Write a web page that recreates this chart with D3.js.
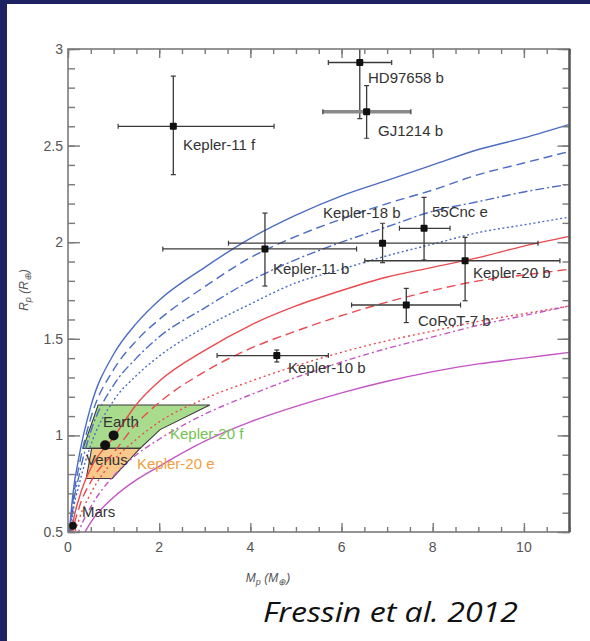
<!DOCTYPE html>
<html><head><meta charset="utf-8">
<script src="https://cdn.jsdelivr.net/npm/d3@7"></script>
<style>
html,body{margin:0;padding:0;background:#fff;}
svg{display:block;}
</style></head>
<body>
<script>
// ---------- data ----------
const massGrid = [0.02,0.05,0.1,0.25,0.5,1,1.5,2,3,4,5,6,7,8,9,10,11];
const blueSolid   = [0.45,0.55,0.68,0.90,1.15,1.42,1.58,1.70,1.87,2.02,2.14,2.24,2.32,2.40,2.48,2.54,2.61];
const blueDashed  = [0.43,0.52,0.64,0.85,1.09,1.34,1.49,1.60,1.77,1.92,2.03,2.12,2.20,2.27,2.35,2.41,2.47];
const blueDashDot = [0.41,0.49,0.61,0.80,1.02,1.26,1.40,1.51,1.66,1.80,1.91,2.00,2.08,2.16,2.21,2.26,2.30];
const blueDotted  = [0.39,0.46,0.58,0.75,0.95,1.18,1.31,1.41,1.56,1.68,1.79,1.86,1.93,1.99,2.05,2.09,2.13];
const redSolid    = [0.36,0.43,0.53,0.68,0.83,0.99,1.16,1.28,1.44,1.57,1.67,1.75,1.82,1.87,1.92,1.98,2.03];
const redDashed   = [0.33,0.40,0.49,0.63,0.76,0.91,1.06,1.17,1.33,1.45,1.54,1.62,1.69,1.75,1.80,1.83,1.86];
const redDotted   = [0.30,0.36,0.44,0.57,0.70,0.87,0.98,1.07,1.19,1.28,1.36,1.43,1.49,1.54,1.59,1.63,1.67];
const magDashDot  = [0.27,0.32,0.40,0.51,0.63,0.79,0.90,0.98,1.11,1.21,1.30,1.38,1.45,1.51,1.57,1.62,1.67];
const magSolid    = [0.22,0.27,0.34,0.44,0.55,0.68,0.77,0.84,0.97,1.07,1.15,1.22,1.28,1.33,1.37,1.40,1.43];

const curveNames  = ["blueSolid","blueDashed","blueDashDot","blueDotted","redSolid","redDashed","redDotted","magDashDot","magSolid"];
const curveValues = [blueSolid,blueDashed,blueDashDot,blueDotted,redSolid,redDashed,redDotted,magDashDot,magSolid];

// planets: mass (low, high), radius (low, high)
const planetNames = ["Kepler-11 f","HD97658 b","GJ1214 b","Kepler-18 b","Kepler-11 b","55Cnc e","Kepler-20 b","CoRoT-7 b","Kepler-10 b"];
const planetMass  = [2.31, 6.40, 6.55, 6.90, 4.32, 7.81, 8.71, 7.42, 4.58];
const planetMLo   = [1.10, 5.71, 5.59, 3.52, 2.08, 7.27, 6.51, 6.22, 3.27];
const planetMHi   = [4.52, 7.10, 7.52, 10.31, 6.33, 8.38, 10.79, 8.61, 5.71];
const planetR     = [2.60, 2.93, 2.675, 1.995, 1.965, 2.072, 1.904, 1.675, 1.413];
const planetRLo   = [2.35, 2.64, 2.538, 1.894, 1.773, 1.908, 1.697, 1.584, 1.380];
const planetRHi   = [2.86, 3.20, 2.810, 2.098, 2.150, 2.232, 2.025, 1.761, 1.442];

const solarNames  = ["Mars","Venus","Earth"];
const solarMass   = [0.107, 0.815, 1.0];
const solarR      = [0.532, 0.949, 1.0];

// Kepler-20 f and e allowed regions (mass, radius)
const k20fRegion = [[0.66,1.157],[3.11,1.157],[2.02,1.03],[1.58,0.933],[0.33,0.933]];
const k20eRegion = [[0.52,0.933],[1.58,0.933],[0.97,0.777],[0.40,0.777]];

const xTickLabels = [0,2,4,6,8,10];
const yTickLabels = [0.5,1,1.5,2,2.5,3];

// ---------- layout ----------
const W = 590, H = 641;
const svg = d3.select("body").append("svg").attr("width",W).attr("height",H);
svg.append("rect").attr("x",0).attr("y",0).attr("width",W).attr("height",H).attr("fill","#fff");
svg.append("rect").attr("x",0).attr("y",0).attr("width",W).attr("height",4).attr("fill","#1f2262");
svg.append("rect").attr("x",0).attr("y",0).attr("width",7).attr("height",H).attr("fill","#1f2262");

const L = 68, R = 569.5, T = 49, B = 532;
const x = d3.scaleLinear().domain([0,11]).range([L,R]);
const y = d3.scaleLinear().domain([0.5,3]).range([B,T]);

svg.append("clipPath").attr("id","clip").append("rect")
  .attr("x",L).attr("y",T).attr("width",R-L).attr("height",B-T);
const plot = svg.append("g").attr("clip-path","url(#clip)");

// regions
const poly = d3.line().x(d=>x(d[0])).y(d=>y(d[1])).curve(d3.curveLinearClosed);
plot.append("path").attr("d",poly(k20fRegion)).attr("fill","#a9db8c").attr("stroke","#3a3a3a").attr("stroke-width",1.1);
plot.append("path").attr("d",poly(k20eRegion)).attr("fill","#f7c98a").attr("stroke","#3a3a3a").attr("stroke-width",1.1);

// curves
const styles = {
  blueSolid:   {c:"#4c6cc4", d:null},
  blueDashed:  {c:"#4c6cc4", d:"9,5"},
  blueDashDot: {c:"#4c6cc4", d:"9,3,2,3"},
  blueDotted:  {c:"#4c6cc4", d:"2,2.5"},
  redSolid:    {c:"#ea4a50", d:null},
  redDashed:   {c:"#ea4a50", d:"9,5"},
  redDotted:   {c:"#ea4a50", d:"2,3"},
  magDashDot:  {c:"#c455c4", d:"6,3,2,3"},
  magSolid:    {c:"#c455c4", d:null}
};
const line = d3.line().x(d=>x(d[0])).y(d=>y(d[1])).curve(d3.curveMonotoneX);
curveNames.forEach((n,i)=>{
  const pts = massGrid.map((m,j)=>[m,curveValues[i][j]]);
  const s = styles[n];
  const p = plot.append("path").attr("d",line(pts)).attr("fill","none")
    .attr("stroke",s.c).attr("stroke-width",1.4);
  if(s.d) p.attr("stroke-dasharray",s.d);
});

// error bars
const ebColor = "#3a3a3a";
const eb = plot.append("g");
planetNames.forEach((n,i)=>{
  const cx = x(planetMass[i]), cy = y(planetR[i]);
  const thick = n==="GJ1214 b";
  eb.append("line").attr("x1",x(planetMLo[i])).attr("x2",x(planetMHi[i])).attr("y1",cy).attr("y2",cy)
    .attr("stroke",thick?"#8a8a8a":ebColor).attr("stroke-width",thick?3.5:1.3);
  [planetMLo[i],planetMHi[i]].forEach(v=>{
    eb.append("line").attr("x1",x(v)).attr("x2",x(v)).attr("y1",cy-2.5).attr("y2",cy+2.5)
      .attr("stroke",ebColor).attr("stroke-width",1.2);
  });
  eb.append("line").attr("x1",cx).attr("x2",cx).attr("y1",y(planetRLo[i])).attr("y2",y(planetRHi[i]))
    .attr("stroke",ebColor).attr("stroke-width",1.3);
  [planetRLo[i],planetRHi[i]].forEach(v=>{
    eb.append("line").attr("x1",cx-2.5).attr("x2",cx+2.5).attr("y1",y(v)).attr("y2",y(v))
      .attr("stroke",ebColor).attr("stroke-width",1.2);
  });
  eb.append("rect").attr("x",cx-3.5).attr("y",cy-3.5).attr("width",7).attr("height",7)
    .attr("rx",1).attr("fill","#111");
});
solarNames.forEach((n,i)=>{
  plot.append("circle").attr("cx",x(solarMass[i])).attr("cy",y(solarR[i]))
    .attr("r",n==="Mars"?4:5).attr("fill","#111");
});

// ---------- axes ----------
const axisColor = "#7a7a7a";
const ax = svg.append("g");
function tickLines(axisGen, tr){
  const g = ax.append("g").attr("transform",tr).call(axisGen);
  g.selectAll("text").remove();
  g.select(".domain").remove();
  g.selectAll("line").attr("stroke",axisColor).attr("stroke-width",1.4);
}
const xMinor = d3.range(0,11.01,0.5), xMajor = d3.range(0,11.01,2);
const yMinor = d3.range(0.5,3.001,0.1).map(v=>+v.toFixed(2)), yMajor = yTickLabels;
tickLines(d3.axisBottom(x).tickValues(xMinor).tickSize(-5).tickFormat(""), `translate(0,${B})`);
tickLines(d3.axisBottom(x).tickValues(xMajor).tickSize(-9).tickFormat(""), `translate(0,${B})`);
tickLines(d3.axisTop(x).tickValues(xMinor).tickSize(-5).tickFormat(""), `translate(0,${T})`);
tickLines(d3.axisTop(x).tickValues(xMajor).tickSize(-9).tickFormat(""), `translate(0,${T})`);
tickLines(d3.axisLeft(y).tickValues(yMinor).tickSize(-7).tickFormat(""), `translate(${L},0)`);
tickLines(d3.axisLeft(y).tickValues(yMajor).tickSize(-12).tickFormat(""), `translate(${L},0)`);
tickLines(d3.axisRight(y).tickValues(yMinor).tickSize(-7).tickFormat(""), `translate(${R},0)`);
tickLines(d3.axisRight(y).tickValues(yMajor).tickSize(-12).tickFormat(""), `translate(${R},0)`);

ax.append("rect").attr("x",L).attr("y",T).attr("width",R-L).attr("height",B-T)
  .attr("fill","none").attr("stroke",axisColor).attr("stroke-width",1.6);
ax.append("line").attr("x1",R).attr("x2",R).attr("y1",T).attr("y2",B).attr("stroke","#555").attr("stroke-width",2.4);

const font = "Liberation Sans, Arial, sans-serif";
svg.append("g").selectAll("text").data(xTickLabels).join("text")
  .attr("x",d=>x(d)).attr("y",B+20).attr("text-anchor","middle")
  .attr("font-family",font).attr("font-size",14).attr("fill","#555").text(d=>d);
svg.append("g").selectAll("text").data(yTickLabels).join("text")
  .attr("x",L-5).attr("y",d=>y(d)+5).attr("text-anchor","end")
  .attr("font-family",font).attr("font-size",14).attr("fill","#555").text(d=>d);

// axis titles
const xt = svg.append("text").attr("x",268).attr("y",582).attr("text-anchor","middle")
  .attr("font-family",font).attr("font-size",12).attr("fill","#555").attr("font-style","italic");
xt.append("tspan").text("M");
xt.append("tspan").attr("dy",3).attr("font-size",9).text("p");
xt.append("tspan").attr("dy",-3).text(" (M");
xt.append("tspan").attr("dy",3).attr("font-size",9).text("⊕");
xt.append("tspan").attr("dy",-3).text(")");

const yt = svg.append("text").attr("transform","translate(28,290) rotate(-90)").attr("text-anchor","middle")
  .attr("font-family",font).attr("font-size",12).attr("fill","#555").attr("font-style","italic");
yt.append("tspan").text("R");
yt.append("tspan").attr("dy",3).attr("font-size",9).text("p");
yt.append("tspan").attr("dy",-3).text(" (R");
yt.append("tspan").attr("dy",3).attr("font-size",9).text("⊕");
yt.append("tspan").attr("dy",-3).text(")");

// ---------- labels ----------
const labelPos = {
  "Kepler-11 f":[183,150], "HD97658 b":[368,83], "GJ1214 b":[378,136], "Kepler-18 b":[323,218],
  "Kepler-11 b":[273,274], "55Cnc e":[432,217], "Kepler-20 b":[473,278], "CoRoT-7 b":[418,326],
  "Kepler-10 b":[288,373], "Mars":[82,517], "Venus":[86,465], "Earth":[103,427]
};
const lbl = svg.append("g").attr("font-family",font).attr("font-size",15).attr("fill","#333");
planetNames.concat(solarNames).forEach(n=>{
  lbl.append("text").attr("x",labelPos[n][0]).attr("y",labelPos[n][1]).text(n);
});
svg.append("text").attr("x",170).attr("y",439).attr("font-family",font).attr("font-size",15)
  .attr("fill","#72c450").text("Kepler-20 f");
svg.append("text").attr("x",137).attr("y",469).attr("font-family",font).attr("font-size",15)
  .attr("fill","#f0a040").text("Kepler-20 e");

// citation
svg.append("text").attr("x",263).attr("y",622).attr("font-family","Open Sans, DejaVu Sans, sans-serif")
  .attr("font-size",27).attr("font-style","italic").attr("fill","#111")
  .attr("textLength",255).attr("lengthAdjust","spacingAndGlyphs").text("Fressin et al. 2012");
</script>
</body></html>
